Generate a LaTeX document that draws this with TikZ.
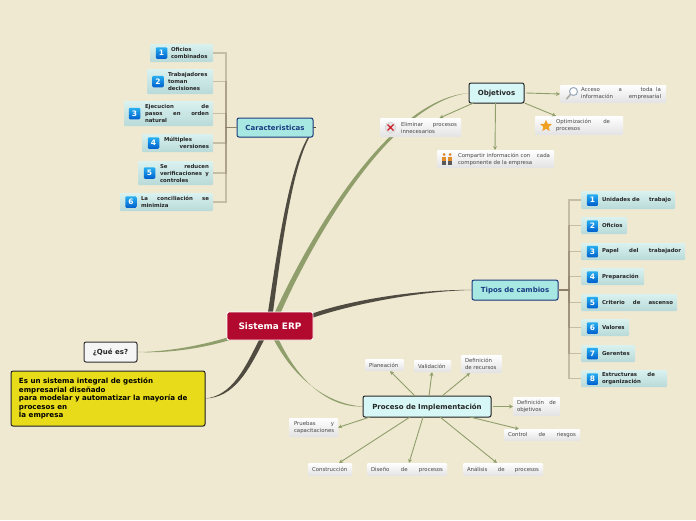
\documentclass[tikz,border=0pt]{standalone}
\usepackage{fontspec}
\setmainfont{DejaVu Sans}
\usetikzlibrary{arrows.meta,shadows,shapes.geometric,calc}
\pgfdeclarelayer{bg}
\pgfsetlayers{bg,main}
\definecolor{paper}{HTML}{F0E9D2}
\definecolor{olive}{HTML}{8F9E6B}
\definecolor{darkline}{HTML}{4F4B40}
\definecolor{tanline}{HTML}{8C8168}
\definecolor{tealtop}{HTML}{DAF2F0}
\definecolor{tealbot}{HTML}{B8DAD8}
\definecolor{greybot}{HTML}{E2E2E2}
\definecolor{bluedraw}{HTML}{1E3C7D}
\definecolor{bluefill}{HTML}{A8E8E2}
\definecolor{bluetext}{HTML}{193C82}
\definecolor{cyanfill}{HTML}{D6F7F5}
\definecolor{numtop}{HTML}{28AFF0}
\definecolor{numbot}{HTML}{005FCD}
\definecolor{rootred}{HTML}{B20A2E}
\definecolor{yel}{HTML}{E8DC1A}
\definecolor{magring}{HTML}{A0AFBE}
\definecolor{maghandle}{HTML}{AAAFA5}
\definecolor{xred}{HTML}{CD1E28}
\definecolor{starorange}{HTML}{F0A023}
\definecolor{headorange}{HTML}{D7822D}
\definecolor{bodyorange}{HTML}{E18C28}
\tikzset{
  boxbase/.style={inner sep=0pt,outer sep=0pt,rounded corners=1pt},
  tealleaf/.style={boxbase,top color=tealtop,bottom color=tealbot,font=\bfseries\fontsize{5.4}{6}\selectfont,text=black!85},
  whiteleaf/.style={boxbase,top color=white,bottom color=greybot,font=\fontsize{5.4}{6}\selectfont,text=black!72},
  mainbox/.style={boxbase,rounded corners=2pt,line width=1pt,text height=5.2pt,text depth=0pt,font=\bfseries\fontsize{7}{8}\selectfont,drop shadow={shadow xshift=.5pt,shadow yshift=-.7pt,opacity=.35}},
  bluebox/.style={mainbox,draw=bluedraw,fill=bluefill,text=bluetext},
  cyanbox/.style={mainbox,draw=black!85,fill=cyanfill,text=black!85},
  numicon/.style={boxbase,rounded corners=1.2pt,minimum width=11.5pt,minimum height=11.5pt,top color=numtop,bottom color=numbot,text=white,font=\bfseries\fontsize{7.5}{8}\selectfont},
  branch/.style={tanline,line width=1.1pt,opacity=.42},
  arrowline/.style={olive,line width=.9pt,-{Stealth[length=4pt,width=4pt]}},
}
\newcommand\lfbs{7pt}
\newcommand\lnn[1]{\hbox to \lfw{#1\hfil}}
\newcommand\lf[9]{%
  \def\lfw{\dimexpr#8pt-#7pt\relax}%
  \node[#6,minimum width={(#4-#2)*1pt},minimum height={(#5-#3)*1pt}] (#1) at ({(#2+#4)/2},{(#3+#5)/2})
  {\hbox to \dimexpr#4pt-#2pt\relax{\hskip\dimexpr#7pt-#2pt\relax\vbox{\baselineskip=\lfbs\lineskiplimit=-10pt #9}\hss}};}
\newcommand\mn[7]{%
  \node[#6,minimum width={(#4-#2)*1pt},minimum height={(#5-#3)*1pt}] (#1) at ({(#2+#4)/2},{(#3+#5)/2}) {#7};}
\begin{document}
\begin{tikzpicture}[x=1pt,y=-1pt]
\useasboundingbox (0,0) rectangle (696,520);
\begin{pgfonlayer}{bg}
\fill[paper] (0,0) rectangle (696,520);
\end{pgfonlayer}
% main nodes
\mn{root}{227}{312}{313}{340}{boxbase,rounded corners=2pt,draw=white,line width=.9pt,fill=rootred,text=white,text height=6.4pt,text depth=0pt,font=\bfseries\fontsize{8.9}{10}\selectfont}{Sistema ERP}
\mn{car}{237}{118}{313}{137}{bluebox}{Caracteristicas}
\mn{obj}{469}{83}{524}{103}{cyanbox}{Objetivos}
\mn{tip}{472}{280}{558}{300}{bluebox}{Tipos de cambios}
\mn{pro}{363}{396}{491}{417}{cyanbox}{Proceso de Implementación}
\mn{que}{84}{342}{137}{362}{mainbox,draw=black!80,fill=black!4,text=black!85,font=\bfseries\fontsize{7}{8}\selectfont}{¿Qué es?}
\renewcommand\lfbs{8.6pt}
\lf{yelbox}{11}{371}{205}{426}{boxbase,rounded corners=2pt,line width=1pt,drop shadow={shadow xshift=.5pt,shadow yshift=-.7pt,opacity=.35},draw=black!85,fill=yel,text=black,font=\bfseries\fontsize{7.1}{8}\selectfont}{19}{200}{\lnn{Es un sistema integral de gestión}\lnn{empresarial diseñado}\lnn{para modelar y automatizar la mayoría de}\lnn{procesos en}\lnn{la empresa}}
\renewcommand\lfbs{7pt}
% Caracteristicas leaves
\lf{c1}{150}{44}{213}{62}{tealleaf}{171}{209}{\lnn{Oficios}\lnn{combinados}}
\lf{c2}{147}{69}{213}{94}{tealleaf}{168}{209}{\lnn{Trabajadores}\lnn{toman}\lnn{decisiones}}
\lf{c3}{124}{101}{213}{126}{tealleaf}{145}{209}{\lnn{Ejecucion\hfill de}\lnn{pasos\hfill en\hfill orden}\lnn{natural}}
\lf{c4}{142}{134}{213}{152}{tealleaf}{164}{209}{\lnn{Múltiples}\lnn{\hfill versiones}}
\lf{c5}{138}{161}{213}{185}{tealleaf}{160}{209}{\lnn{Se\hfill reducen}\lnn{verificaciones\hfill y}\lnn{controles}}
\lf{c6}{120}{193}{213}{211}{tealleaf}{141}{209}{\lnn{La\hfill conciliación\hfill se}\lnn{minimiza}}
\node[numicon] (ci1) at (161.5,53) {1};
\node[numicon] (ci2) at (158,81.5) {2};
\node[numicon] (ci3) at (134.5,113.5) {3};
\node[numicon] (ci4) at (153.5,143) {4};
\node[numicon] (ci5) at (149.5,173) {5};
\node[numicon] (ci6) at (131,202) {6};
% Tipos leaves
\lf{t1}{581}{191}{675}{209}{tealleaf}{602}{671}{\lnn{Unidades de\hfill trabajo}}
\lf{t2}{581}{217}{627}{234}{tealleaf}{602}{624}{\lnn{Oficios}}
\lf{t3}{581}{243}{685}{260}{tealleaf}{602}{681}{\lnn{Papel\hfill del\hfill trabajador}}
\lf{t4}{581}{268}{644}{285}{tealleaf}{602}{641}{\lnn{Preparación}}
\lf{t5}{581}{294}{677}{311}{tealleaf}{602}{673}{\lnn{Criterio\hfill de\hfill ascenso}}
\lf{t6}{581}{319}{629}{336}{tealleaf}{602}{626}{\lnn{Valores}}
\lf{t7}{581}{345}{635}{362}{tealleaf}{602}{632}{\lnn{Gerentes}}
\lf{t8}{581}{370}{667}{387}{tealleaf}{602}{655}{\lnn{Estructuras\hfill de}\lnn{organización}}
\node[numicon] (ti1) at (592.5,200) {1};
\node[numicon] (ti2) at (592.5,226) {2};
\node[numicon] (ti3) at (592.5,251.5) {3};
\node[numicon] (ti4) at (592.5,277) {4};
\node[numicon] (ti5) at (592.5,302.5) {5};
\node[numicon] (ti6) at (592.5,328) {6};
\node[numicon] (ti7) at (592.5,353.5) {7};
\node[numicon] (ti8) at (592.5,379) {8};
% Objetivos leaves
\lf{oa}{560}{85}{666}{103}{whiteleaf}{581}{661}{\lnn{Acceso\hfill a\hfill toda\ \ la}\lnn{información\hfill empresarial}}
\lf{oe}{380}{118}{461}{137}{whiteleaf}{401}{457}{\lnn{Eliminar\hfill procesos}\lnn{innecesarios}}
\lf{oo}{535}{116}{623}{135}{whiteleaf}{556}{610}{\lnn{Optimización\hfill de}\lnn{procesos}}
\lf{oc}{437}{150}{554}{168}{whiteleaf}{458}{550}{\lnn{Compartir información con\hfill cada}\lnn{componente de la empresa}}
% Proceso leaves
\lf{p1}{365}{359}{404}{371}{whiteleaf}{369}{401}{\lnn{Planeación}}
\lf{p2}{414}{360}{451}{372}{whiteleaf}{418}{448}{\lnn{Validación}}
\lf{p3}{461}{355}{502}{373}{whiteleaf}{465}{499}{\lnn{Definición}\lnn{de recursos}}
\lf{p4}{513}{397}{560}{416}{whiteleaf}{517}{556}{\lnn{Definición\hfill de}\lnn{objetivos}}
\lf{p5}{504}{429}{580}{441}{whiteleaf}{508}{576}{\lnn{Control\hfill de\hfill riesgos}}
\lf{p6}{463}{463}{543}{476}{whiteleaf}{467}{539}{\lnn{Análisis\hfill de\hfill procesos}}
\lf{p7}{367}{463}{447}{476}{whiteleaf}{371}{443}{\lnn{Diseño\hfill de\hfill procesos}}
\lf{p8}{308}{463}{352}{476}{whiteleaf}{312}{349}{\lnn{Construcción}}
\lf{p9}{289}{418}{338}{437}{whiteleaf}{294}{334}{\lnn{Pruebas\hfill y}\lnn{capacitaciones}}
% small icons
\node[circle,inner sep=0pt,minimum size=8pt,draw=magring,line width=1.1pt,fill=white] (mag) at (573.5,91.5) {};
\draw[maghandle,line width=1.6pt,line cap=round] (mag.south west) -- ++(-3.5,4);
\node[circle,inner sep=0pt,minimum size=11pt,fill=black!10,draw=black!20,line width=.4pt] (del) at (390.5,127.5) {};
\draw[xred,line width=1.4pt] ($(del)+(-3,-3)$) -- ($(del)+(3,3)$) ($(del)+(3,-3)$) -- ($(del)+(-3,3)$);
\node[star,star points=5,star point ratio=2.2,minimum size=12.5pt,inner sep=0pt,fill=starorange] (stx) at (546,126) {};
\foreach \px/\pn in {444/pa,450/pb}{
  \node[circle,inner sep=0pt,minimum size=3pt,fill=headorange] (\pn) at (\px,154.5) {};
  \fill[bodyorange] (\px-2.2,156.5) rectangle (\px+2.2,161);
  \fill[black!65] (\px-1.7,161) rectangle (\px+1.7,165);
}
% tree branches
\foreach \n in {c1,c2,c3,c4,c5,c6}{\draw[branch] (car.west) -- ++(-11,0) |- (\n.east);}
\foreach \n in {t1,t2,t3,t4,t5,t6,t7,t8}{\draw[branch] (tip.east) -- ++(11,0) |- (\n.west);}
% arrows
\draw[arrowline] (obj.east) ++(2,0) -- (oa.west);
\draw[arrowline] ([xshift=-23pt]obj.south) -- ([xshift=19pt]oe.north);
\draw[arrowline] ([xshift=-1pt]obj.south) -- ([xshift=-0.5pt]oc.north);
\draw[arrowline] ([xshift=28pt]obj.south) -- ([xshift=-23pt]oo.north);
\draw[arrowline] ([xshift=-12pt]pro.north) -- ([xshift=5.5pt]p1.south);
\draw[arrowline] ([xshift=2pt]pro.north) -- ([xshift=-0.5pt]p2.south);
\draw[arrowline] ([xshift=15pt]pro.north) -- ([xshift=-11.5pt]p3.south);
\draw[arrowline] (pro.east) ++(2,0) -- (p4.west);
\draw[arrowline] ([xshift=43pt]pro.south) -- ([xshift=-23pt]p5.north);
\draw[arrowline] ([xshift=13pt]pro.south) -- ([xshift=-6pt]p6.north);
\draw[arrowline] ([xshift=-4pt]pro.south) -- ([xshift=2pt]p7.north);
\draw[arrowline] ([xshift=-17pt]pro.south) -- ([xshift=9pt]p8.north);
\draw[arrowline] ([xshift=-57pt]pro.south) -- (p9.east);
% tapered main connectors
\begin{pgfonlayer}{bg}
\draw[darkline,line width=.9pt] (car.east) -- ++(3,0);
\fill[darkline] (268,312) .. controls (276,260) and (288,170) .. ([xshift=-5pt]car.south east)
  -- ([xshift=-3.5pt]car.south east) .. controls (291,170) and (280,260) .. (273,312) -- cycle;
\fill[olive] (275,312) .. controls (308,240) and (388,99) .. (obj.west)
  .. controls (391,102) and (313,240) .. (281,312) -- cycle;
\fill[darkline] (311,314) .. controls (350,300) and (420,289) .. (tip.west)
  .. controls (420,291) and (352,304) .. (312,318) -- cycle;
\fill[olive] (274,340) .. controls (293,376) and (325,404) .. (pro.west)
  .. controls (325,408) and (296,376) .. (279,340) -- cycle;
\fill[olive] (que.east) .. controls (165,352) and (200,346) .. (229,337)
  -- (230,340) .. controls (200,349) and (165,353.5) .. (que.east) -- cycle;
\fill[darkline] (yelbox.east) .. controls (232,396) and (245,368) .. (259,340)
  -- (264,340) .. controls (249,370) and (234,398) .. (yelbox.east) -- cycle;
\end{pgfonlayer}
\end{tikzpicture}
\end{document}
